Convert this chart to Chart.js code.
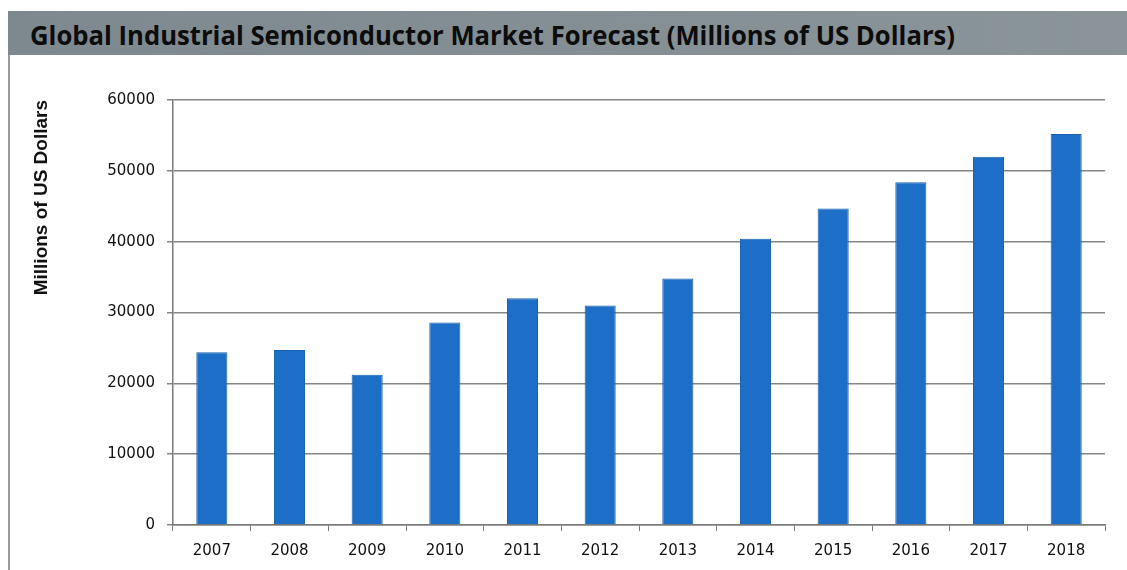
<!DOCTYPE html>
<html>
<head>
<meta charset="utf-8">
<script src="https://cdn.jsdelivr.net/npm/chart.js@4"></script>
<style>
    html, body { margin: 0; padding: 0; background: #fff; }
    #page { position: relative; width: 1127px; height: 570px; overflow: hidden; }
    #frame { position: absolute; left: 8px; top: 11px; width: 1119px; height: 559px; border-left: 2px solid #9a9a9a; }
    #titlebar {
        position: absolute; left: 8px; top: 11px; width: 1119px; height: 44px;
        background: linear-gradient(to right, #7e898f, #8a9499);
    }
    #title {
        position: absolute; left: 22px; top: 5px; white-space: nowrap;
        font-family: "Open Sans", sans-serif; font-weight: 700; font-size: 27px;
        color: #0c0c0c; transform-origin: 0 0;
    }
    #wrap { position: absolute; left: 0; top: 55px; width: 1127px; height: 515px; }
    canvas { display: block; }
</style>
</head>
<body>
<div id="page">
    <div id="frame"></div>
    <div id="titlebar"><span id="title">Global Industrial Semiconductor Market Forecast (Millions of US Dollars)</span></div>
    <div id="wrap"><canvas id="myChart" width="1127" height="515"></canvas></div>
</div>
<script>
var years = ["2007", "2008", "2009", "2010", "2011", "2012", "2013", "2014", "2015", "2016", "2017", "2018"];
var market = [24400, 24700, 21200, 28600, 32000, 31000, 34800, 40400, 44700, 48400, 52000, 55200];
var yTitle = "Millions of US Dollars";

// squeeze the title to the width of the original (Calibri is narrower)
var t = document.getElementById("title");
t.style.transform = "scaleX(" + (925 / t.offsetWidth) + ")";

var tickFont = { family: "DejaVu Sans", size: 15 };

var ctx = document.getElementById("myChart").getContext('2d');
var myChart = new Chart(ctx, {
    type: 'bar',
    data: {
        labels: years,
        datasets: [{
            label: yTitle,
            data: market,
            backgroundColor: '#1c6ec6',
            borderColor: '#1660ad',
            borderWidth: 1,
            barPercentage: 0.4,
            categoryPercentage: 1
        }]
    },
    options: {
        responsive: false,
        animation: false,
        devicePixelRatio: 1,
        layout: { padding: { left: 0, right: 22, top: 45, bottom: 0 } },
        plugins: {
            legend: { display: false },
            tooltip: { enabled: false }
        },
        scales: {
            x: {
                offset: true,
                grid: {
                    offset: true,
                    drawOnChartArea: false,
                    tickLength: 6,
                    color: '#7a7a7a'
                },
                border: { color: '#7a7a7a', width: 1.5 },
                ticks: {
                    color: '#111',
                    padding: 11,
                    font: tickFont
                },
                afterFit: function (scale) { scale.height = 45; }
            },
            y: {
                min: 0,
                max: 60000,
                ticks: {
                    stepSize: 10000,
                    color: '#111',
                    padding: 12,
                    font: tickFont,
                    callback: function (v) { return String(v); }
                },
                grid: {
                    color: '#858585',
                    lineWidth: 1.5,
                    tickLength: 6
                },
                border: { color: '#7a7a7a', width: 1.5 },
                title: {
                    display: true,
                    text: yTitle,
                    align: 'end',
                    color: '#111',
                    padding: { top: 30, bottom: 0 },
                    font: { family: "Liberation Sans", size: 19, weight: 'bold' }
                },
                afterFit: function (scale) { scale.width = 173; }
            }
        }
    }
});
</script>
</body>
</html>
